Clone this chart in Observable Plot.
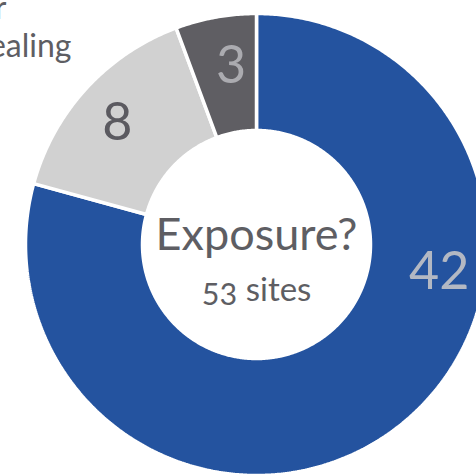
<!DOCTYPE html>
<html>
<head>
<meta charset="utf-8">
<script src="https://cdn.jsdelivr.net/npm/d3@7"></script>
<script src="https://cdn.jsdelivr.net/npm/@observablehq/plot@0.6"></script>
<style>
  html, body { margin: 0; padding: 0; background: #fff; overflow: hidden; }
  #chart svg { display: block; }
</style>
</head>
<body>
<div id="chart"></div>
<script>
// ---- data ----
const categories = ["Exposed", "Unclear", "Not exposed"];
const values = [42, 8, 3];
const sliceColors = ["#24539f", "#d1d1d1", "#5f5e63"];
const labelColors = ["#b3b8c3", "#5b5a60", "#ababb0"];
const centerTitle = "Exposure?";
const centerSubtitle = "53 sites";
const cornerLabelLines = ["Unclear or", "concealing"];

// ---- geometry (data units: outer radius = 1) ----
const W = 476, H = 474;
const cx = 256, cy = 244, Rpx = 231;
const inner = 114 / Rpx;
const labelR = [0.80, 0.80, 0.78];
const labelFrac = [0.346, 0.475, 0.6];

const pie = d3.pie().sort(null).value(d => d.value);
const arcs = pie(categories.map((c, i) => ({category: c, value: values[i], i})));

const poly = [];
arcs.forEach(a => {
  const n = Math.max(8, Math.ceil((a.endAngle - a.startAngle) / (Math.PI / 360)));
  const pts = [];
  for (let k = 0; k <= n; k++) {
    const t = a.startAngle + (a.endAngle - a.startAngle) * k / n;
    pts.push([Math.sin(t), Math.cos(t)]);
  }
  for (let k = n; k >= 0; k--) {
    const t = a.startAngle + (a.endAngle - a.startAngle) * k / n;
    pts.push([inner * Math.sin(t), inner * Math.cos(t)]);
  }
  pts.push(pts[0]);
  pts.forEach(p => poly.push({x: p[0], y: p[1], category: a.data.category}));
});

const labels = arcs.map((a, i) => {
  const t = a.startAngle + (a.endAngle - a.startAngle) * labelFrac[i];
  return {x: labelR[i] * Math.sin(t), y: labelR[i] * Math.cos(t), text: String(a.data.value), color: labelColors[i]};
});

const chart = Plot.plot({
  width: W,
  height: H,
  margin: 0,
  style: {background: "#fff", fontFamily: "Lato, 'Noto Sans', sans-serif"},
  x: {domain: [-cx / Rpx, (W - cx) / Rpx], axis: null},
  y: {domain: [-(H - cy) / Rpx, cy / Rpx], axis: null},
  color: {domain: categories, range: sliceColors},
  marks: [
    Plot.line(poly, {x: "x", y: "y", z: "category", fill: "category", stroke: "#fff", strokeWidth: 3.5, strokeLinejoin: "miter"}),
    Plot.text(labels, {x: "x", y: "y", text: "text", fill: "color", fontSize: 52, fontWeight: 400}),
    Plot.text([centerTitle], {x: 0, y: 0, text: d => d, fill: "#5e5e63", fontSize: 45, dy: -9}),
    Plot.text([centerSubtitle], {x: 0, y: 0, text: d => d, fill: "#5e5e63", fontSize: 33, fontVariant: "oldstyle-nums", dy: 46}),
    Plot.text([cornerLabelLines[0]], {frameAnchor: "top-left", text: d => d, textAnchor: "end", fill: "#5e5e63", fontSize: 32, dx: 6, dy: -4}),
    Plot.text([cornerLabelLines[1]], {frameAnchor: "top-left", text: d => d, textAnchor: "end", fill: "#5e5e63", fontSize: 32, dx: 71, dy: 34})
  ]
});
document.getElementById("chart").appendChild(chart);
</script>
</body>
</html>
